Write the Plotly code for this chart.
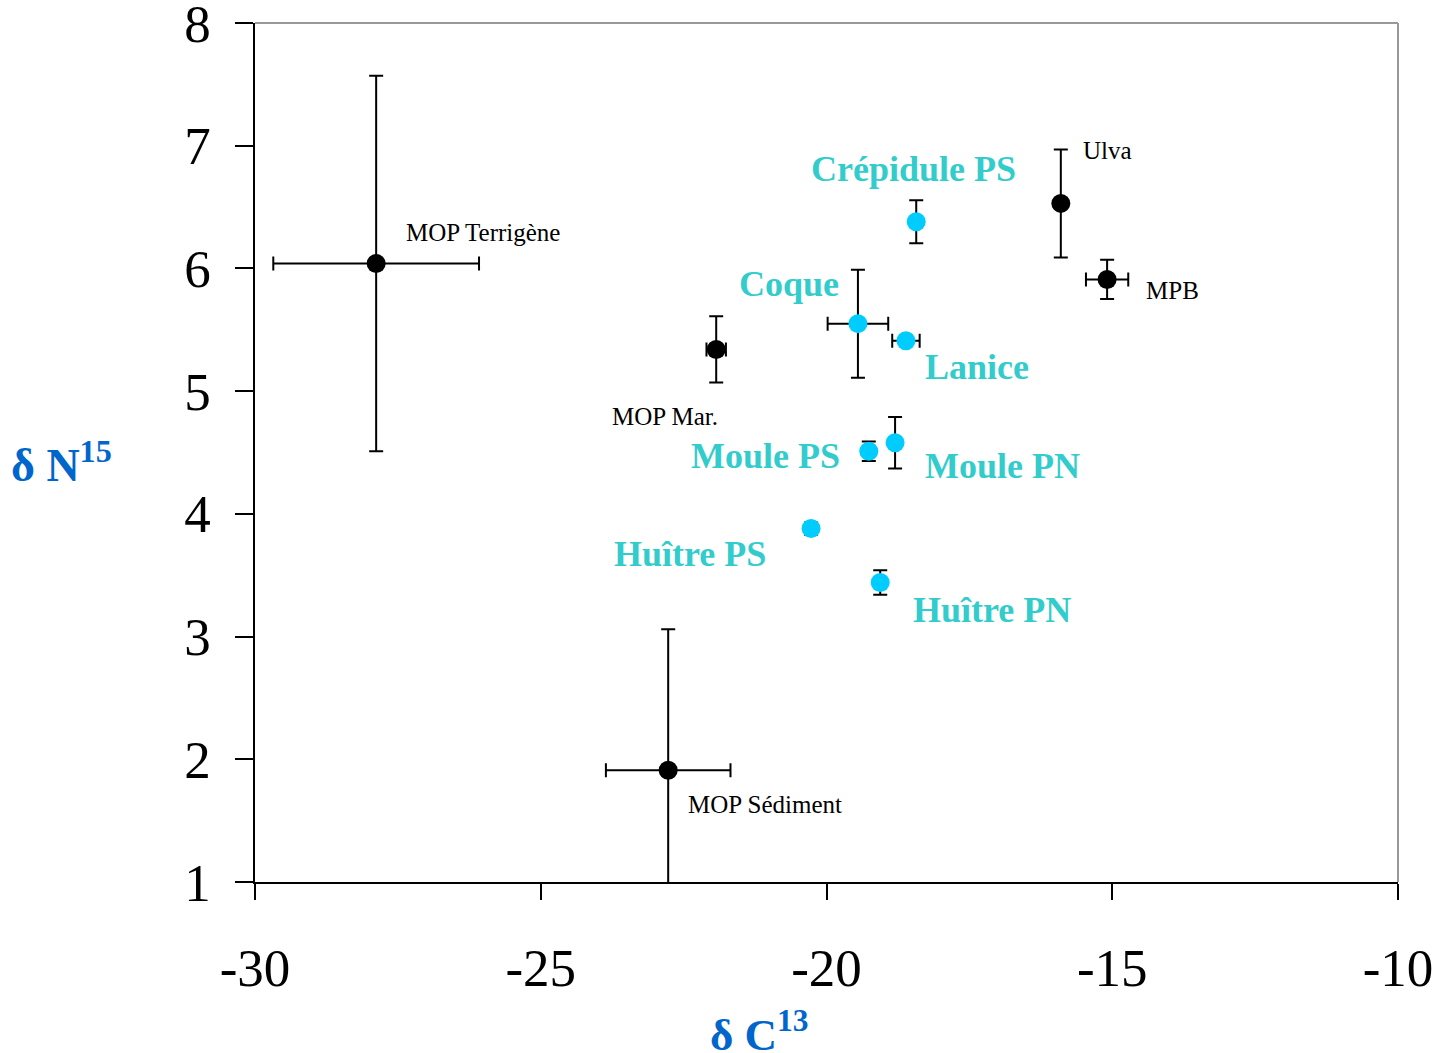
import plotly.graph_objects as go

# Sources (black)
src_names = ["MOP Terrigène", "MOP Mar.", "MOP Sédiment", "Ulva", "MPB"]
src_c13 = [-27.88, -21.93, -22.77, -15.90, -15.09]
src_n15 = [6.04, 5.34, 1.91, 6.53, 5.91]
src_c13_err = [1.80, 0.17, 1.09, 0.0, 0.37]
src_n15_err = [1.53, 0.27, 1.15, 0.44, 0.16]

# Consumers (cyan)
con_names = ["Crépidule PS", "Coque", "Lanice", "Moule PS", "Moule PN", "Huître PS", "Huître PN"]
con_c13 = [-18.43, -19.45, -18.61, -19.26, -18.80, -20.27, -19.06]
con_n15 = [6.38, 5.55, 5.41, 4.51, 4.58, 3.88, 3.44]
con_c13_err = [0.0, 0.53, 0.24, 0.0, 0.0, 0.0, 0.0]
con_n15_err = [0.175, 0.44, 0.0, 0.08, 0.21, 0.05, 0.10]

x_ticks = [-30, -25, -20, -15, -10]
y_ticks = [1, 2, 3, 4, 5, 6, 7, 8]

# label offsets (pixels) relative to each point
src_label_off = {
    "MOP Terrigène": (28, 31, "left"),
    "MOP Mar.": (-106, -67, "left"),
    "MOP Sédiment": (18, -34, "left"),
    "Ulva": (20, 53, "left"),
    "MPB": (37, -11, "left"),
}
con_label_off = {
    "Crépidule PS": (-3, 53, "center"),
    "Coque": (-69, 40, "center"),
    "Lanice": (17, -26, "left"),
    "Moule PS": (-103, -5, "center"),
    "Moule PN": (28, -23, "left"),
    "Huître PS": (-121, -25, "center"),
    "Huître PN": (31, -27, "left"),
}

SERIF = "Liberation Serif, Times New Roman, serif"
CYAN_M = "#00CCFF"
CYAN_T = "#33CCCC"
BLUE = "#0066CC"

fig = go.Figure()

def err(arr):
    return dict(type="data", array=arr, symmetric=True, color="black", thickness=2, width=7)

fig.add_trace(go.Scatter(
    x=src_c13, y=src_n15, mode="markers",
    marker=dict(color="black", size=19),
    error_x=err(src_c13_err), error_y=err(src_n15_err),
    showlegend=False, cliponaxis=True,
))
fig.add_trace(go.Scatter(
    x=con_c13, y=con_n15, mode="markers",
    marker=dict(color=CYAN_M, size=19),
    error_x=err(con_c13_err), error_y=err(con_n15_err),
    showlegend=False, cliponaxis=True,
))

annotations = []
for n, x, y in zip(src_names, src_c13, src_n15):
    dx, dy, anc = src_label_off[n]
    annotations.append(dict(x=x, y=y, xref="x", yref="y", text=n, showarrow=False,
                            xanchor=anc, yanchor="middle", xshift=dx, yshift=dy,
                            font=dict(family=SERIF, size=25, color="black")))
for n, x, y in zip(con_names, con_c13, con_n15):
    dx, dy, anc = con_label_off[n]
    annotations.append(dict(x=x, y=y, xref="x", yref="y", text="<b>%s</b>" % n, showarrow=False,
                            xanchor=anc, yanchor="middle", xshift=dx, yshift=dy,
                            font=dict(family=SERIF, size=36, color=CYAN_T)))

annotations.append(dict(x=0.4418, y=-0.172, xref="paper", yref="paper",
                        text="<b>δ C<sup>13</sup></b>", showarrow=False,
                        xanchor="center", yanchor="middle", yshift=-2,
                        font=dict(family=SERIF, size=45, color=BLUE)))
annotations.append(dict(x=-0.169, y=0.489, xref="paper", yref="paper",
                        text="<b>δ N<sup>15</sup></b>", showarrow=False,
                        xanchor="center", yanchor="middle",
                        font=dict(family=SERIF, size=46, color=BLUE)))

shapes = [
    dict(type="line", xref="paper", yref="paper", x0=0, x1=1, y0=1, y1=1,
         line=dict(color="#999999", width=2), layer="above"),
    dict(type="line", xref="paper", yref="paper", x0=1, x1=1, y0=0, y1=1,
         line=dict(color="#999999", width=2), layer="above"),
]

fig.update_layout(
    width=1439, height=1053,
    margin=dict(l=255, r=41, t=23, b=171, autoexpand=False),
    paper_bgcolor="white", plot_bgcolor="white",
    annotations=annotations, shapes=shapes,
    font=dict(family=SERIF, color="black"),
)
fig.update_xaxes(
    range=[-30, -10], tickvals=x_ticks, ticktext=[str(v) for v in x_ticks],
    showgrid=False, zeroline=False, showline=True, linecolor="black", linewidth=1.5,
    ticks="outside", ticklen=16, tickwidth=1.5, tickcolor="black", automargin=False,
    tickfont=dict(family=SERIF, size=53, color="black"), ticklabelstandoff=23,
    ticklabeloverflow="allow",
)
fig.update_yaxes(
    range=[1, 8], tickvals=y_ticks, ticktext=[str(v) for v in y_ticks],
    showgrid=False, zeroline=False, showline=True, linecolor="black", linewidth=1.5,
    ticks="outside", ticklen=18, tickwidth=1.5, tickcolor="black", automargin=False,
    tickfont=dict(family=SERIF, size=53, color="black"), ticklabelstandoff=14,
    ticklabeloverflow="allow",
)

fig.write_html("out.html")
